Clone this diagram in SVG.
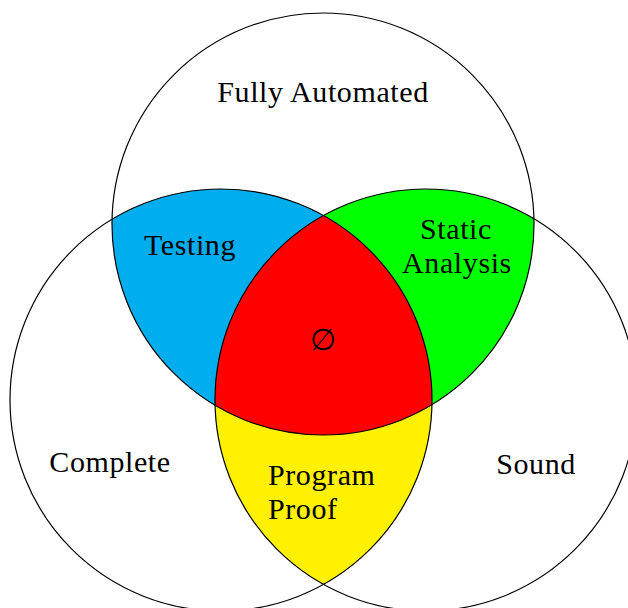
<svg xmlns="http://www.w3.org/2000/svg" width="628" height="608" viewBox="0 0 628 608">
  <style>
    .ring { fill: none; stroke: #000; stroke-width: 1.2; }
    .lbl { font-family: "Liberation Serif", "DejaVu Serif", serif; font-size: 30px; letter-spacing: 0.6px; fill: #000; }
    .mid { text-anchor: middle; }
  </style>
  <defs>
    <circle id="cTop" cx="323" cy="224" r="211"/>
    <circle id="cLeft" cx="221" cy="400" r="211"/>
    <circle id="cRight" cx="426" cy="400" r="211"/>
    <clipPath id="clipTop"><use href="#cTop"/></clipPath>
    <clipPath id="clipLeft"><use href="#cLeft"/></clipPath>
    <clipPath id="clipRight"><use href="#cRight"/></clipPath>
  </defs>

  <rect width="628" height="608" fill="#fff"/>

  <!-- pairwise overlaps -->
  <g id="testing-region">
    <use href="#cTop" fill="#00ADEF" clip-path="url(#clipLeft)"/>
  </g>
  <g id="static-analysis-region">
    <use href="#cTop" fill="#00FF00" clip-path="url(#clipRight)"/>
  </g>
  <g id="program-proof-region">
    <use href="#cLeft" fill="#FFF100" clip-path="url(#clipRight)"/>
  </g>
  <!-- triple overlap -->
  <g id="empty-region" clip-path="url(#clipTop)">
    <use href="#cLeft" fill="#FF0000" clip-path="url(#clipRight)"/>
  </g>

  <!-- circle outlines -->
  <g id="fully-automated">
    <use href="#cTop" class="ring"/>
  </g>
  <g id="complete">
    <use href="#cLeft" class="ring"/>
  </g>
  <g id="sound">
    <use href="#cRight" class="ring"/>
  </g>

  <!-- labels -->
  <g id="labels">
    <text class="lbl mid" x="323" y="102">Fully Automated</text>
    <text class="lbl mid" x="190" y="255">Testing</text>
    <text class="lbl mid" x="456" y="239">Static</text>
    <text class="lbl mid" x="457" y="273">Analysis</text>
    <text class="lbl mid" x="323" y="350">∅</text>
    <text class="lbl" x="268" y="485">Program</text>
    <text class="lbl" x="268" y="519">Proof</text>
    <text class="lbl mid" x="110" y="472">Complete</text>
    <text class="lbl mid" x="536" y="474">Sound</text>
  </g>
</svg>
